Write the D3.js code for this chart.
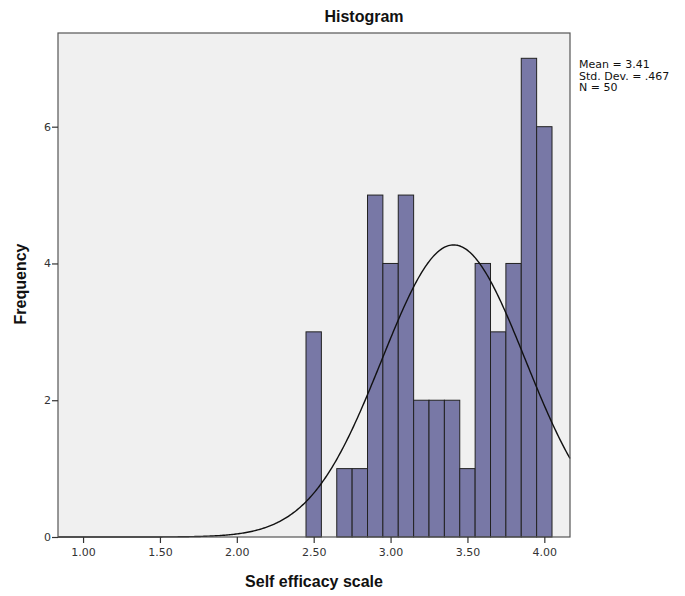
<!DOCTYPE html>
<html lang="en">
<head>
  <meta charset="UTF-8">
  <title>Histogram</title>
  <style>
    body, html {
      margin: 0;
      padding: 0;
      background: #fff;
      font-family: "DejaVu Sans", sans-serif;
    }
  </style>
</head>
<body>
  <svg id="svg" width="685" height="596"></svg>

  <script src="https://cdn.jsdelivr.net/npm/d3@7"></script>
  <script>
    // bin centres and counts (bin width 0.1)
    const binCenters = [2.5, 2.6, 2.7, 2.8, 2.9, 3.0, 3.1, 3.2, 3.3, 3.4, 3.5, 3.6, 3.7, 3.8, 3.9, 4.0]
    const counts = [3, 0, 1, 1, 5, 4, 5, 2, 2, 2, 1, 4, 3, 4, 7, 6]
    const binWidth = 0.1
    const xTicks = [1.0, 1.5, 2.0, 2.5, 3.0, 3.5, 4.0]
    const yTicks = [0, 2, 4, 6]
    const stats = { mean: 3.41, sd: 0.467, n: 50 }
    const statLines = ['Mean = 3.41', 'Std. Dev. = .467', 'N = 50']

    const frame = { left: 58, right: 570, top: 33, bottom: 537 }

    const x = d3.scaleLinear()
      .domain([0.837, 4.167])
      .range([frame.left, frame.right])

    const y = d3.scaleLinear()
      .domain([0, 7.37])
      .range([frame.bottom, frame.top])

    const svg = d3.select('#svg')

    // plot background
    svg.append('rect')
      .attr('x', frame.left)
      .attr('y', frame.top)
      .attr('width', frame.right - frame.left)
      .attr('height', frame.bottom - frame.top)
      .attr('fill', '#f0f0f0')

    // bars
    const bins = binCenters.map((c, i) => ({ x0: c - binWidth / 2, x1: c + binWidth / 2, count: counts[i] }))
    svg.append('g')
      .selectAll('rect')
      .data(bins.filter(d => d.count > 0))
      .enter()
      .append('rect')
      .attr('x', d => x(d.x0))
      .attr('width', d => x(d.x1) - x(d.x0))
      .attr('y', d => y(d.count))
      .attr('height', d => y(0) - y(d.count))
      .attr('fill', '#7878a6')
      .attr('stroke', '#222')
      .attr('stroke-width', 1)

    // normal curve scaled to counts
    const norm = v => stats.n * binWidth / (stats.sd * Math.sqrt(2 * Math.PI)) *
      Math.exp(-0.5 * Math.pow((v - stats.mean) / stats.sd, 2))
    const curvePts = d3.range(0, 401).map(i => {
      const v = x.domain()[0] + (x.domain()[1] - x.domain()[0]) * i / 400
      return [v, norm(v)]
    })
    svg.append('path')
      .datum(curvePts)
      .attr('d', d3.line().x(d => x(d[0])).y(d => y(d[1])))
      .attr('fill', 'none')
      .attr('stroke', '#111')
      .attr('stroke-width', 1.4)

    // frame
    svg.append('rect')
      .attr('x', frame.left)
      .attr('y', frame.top)
      .attr('width', frame.right - frame.left)
      .attr('height', frame.bottom - frame.top)
      .attr('fill', 'none')
      .attr('stroke', '#555')
      .attr('stroke-width', 1.2)

    // axes
    const xAxis = svg.append('g')
      .attr('transform', `translate(0, ${frame.bottom})`)
      .call(d3.axisBottom(x).tickValues(xTicks).tickFormat(d3.format('.2f')).tickSize(6).tickPadding(5))
    xAxis.select('.domain').remove()

    const yAxis = svg.append('g')
      .attr('transform', `translate(${frame.left}, 0)`)
      .call(d3.axisLeft(y).tickValues(yTicks).tickSize(6).tickPadding(1))
    yAxis.select('.domain').remove()

    svg.selectAll('.tick line').attr('stroke', '#333').attr('stroke-width', 1.2)
    svg.selectAll('.tick text')
      .attr('fill', '#333')
      .style('font-family', '"DejaVu Sans", sans-serif')
      .style('font-size', '11px')

    // titles
    svg.append('text')
      .attr('x', 364)
      .attr('y', 22)
      .attr('text-anchor', 'middle')
      .style('font-family', '"Liberation Sans", Arial, sans-serif')
      .style('font-weight', 'bold')
      .style('font-size', '16px')
      .attr('fill', '#111')
      .text('Histogram')

    svg.append('text')
      .attr('x', (frame.left + frame.right) / 2)
      .attr('y', 587)
      .attr('text-anchor', 'middle')
      .style('font-family', '"Liberation Sans", Arial, sans-serif')
      .style('font-weight', 'bold')
      .style('font-size', '16px')
      .attr('fill', '#111')
      .text('Self efficacy scale')

    svg.append('text')
      .attr('transform', 'translate(26, 284) rotate(-90)')
      .attr('text-anchor', 'middle')
      .style('font-family', '"Liberation Sans", Arial, sans-serif')
      .style('font-weight', 'bold')
      .style('font-size', '16px')
      .attr('fill', '#111')
      .text('Frequency')

    // stats box
    svg.append('g')
      .selectAll('text')
      .data(statLines)
      .enter()
      .append('text')
      .attr('x', 579)
      .attr('y', (d, i) => 68 + i * 11.5)
      .style('font-family', '"DejaVu Sans", sans-serif')
      .style('font-size', '11px')
      .attr('fill', '#111')
      .text(d => d)
  </script>
</body>
</html>
